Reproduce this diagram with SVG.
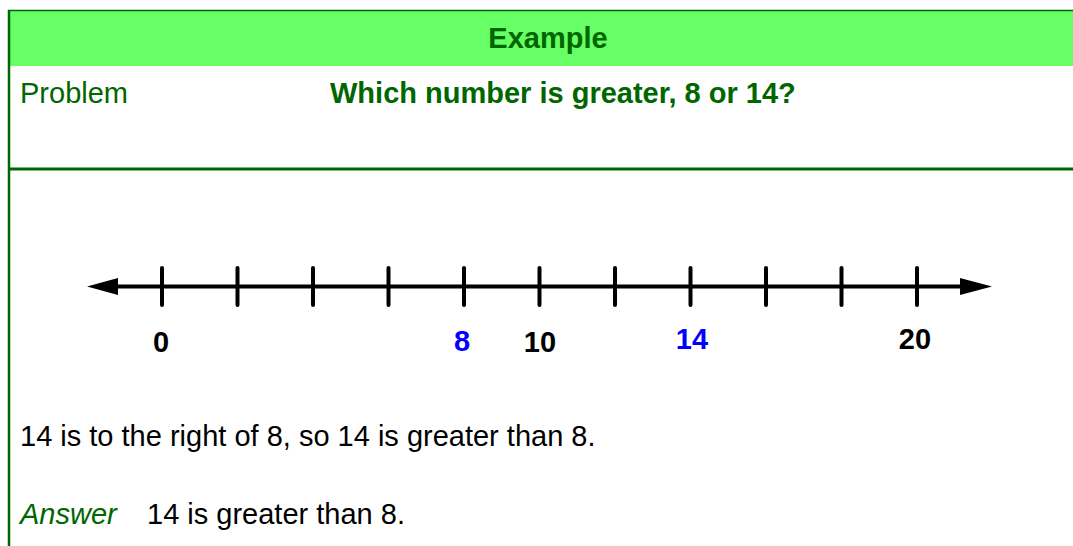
<svg xmlns="http://www.w3.org/2000/svg" width="1073" height="546" viewBox="0 0 1073 546">
<style>
.t{font-family:"Liberation Sans",Arial,sans-serif;font-size:29px}
.b{font-weight:bold}
.g{fill:#006600}
.k{fill:#000}
.bl{fill:#0000ff}
.tick{stroke:#000;stroke-width:4;stroke-linecap:round}
.axis{stroke:#000;stroke-width:4}
.bd{stroke:#006600;fill:none}
</style>
<rect width="1073" height="546" fill="#fff"/>
<g id="header">
<rect x="9" y="10" width="1064" height="56" fill="#66ff66"/>
<line class="bd" x1="8" y1="10.5" x2="1073" y2="10.5" stroke-width="1.5"/>
<text class="t b g" x="548" y="48" text-anchor="middle">Example</text>
</g>
<g id="frame">
<line class="bd" x1="9" y1="10" x2="9" y2="546" stroke-width="2.5"/>
<line class="bd" x1="8" y1="169" x2="1073" y2="169" stroke-width="3"/>
</g>
<g id="problem">
<text class="t g" x="20" y="103">Problem</text>
<text class="t b g" x="330" y="103">Which number is greater, 8 or 14?</text>
</g>
<g id="numberline">
<line class="axis" x1="112" y1="286.5" x2="966" y2="286.5"/>
<polygon points="87,286.5 118,278 118,295" fill="#000"/>
<polygon points="992,286.5 960,278 960,295" fill="#000"/>
<line class="tick" x1="162" y1="268" x2="162" y2="305"/>
<line class="tick" x1="237.5" y1="268" x2="237.5" y2="305"/>
<line class="tick" x1="313" y1="268" x2="313" y2="305"/>
<line class="tick" x1="388.5" y1="268" x2="388.5" y2="305"/>
<line class="tick" x1="464" y1="268" x2="464" y2="305"/>
<line class="tick" x1="539.5" y1="268" x2="539.5" y2="305"/>
<line class="tick" x1="615" y1="268" x2="615" y2="305"/>
<line class="tick" x1="690.5" y1="268" x2="690.5" y2="305"/>
<line class="tick" x1="766" y1="268" x2="766" y2="305"/>
<line class="tick" x1="841.5" y1="268" x2="841.5" y2="305"/>
<line class="tick" x1="917" y1="268" x2="917" y2="305"/>
<text class="t b k" x="161" y="352" text-anchor="middle">0</text>
<text class="t b bl" x="462" y="351" text-anchor="middle">8</text>
<text class="t b k" x="540" y="352" text-anchor="middle">10</text>
<text class="t b bl" x="692" y="349" text-anchor="middle">14</text>
<text class="t b k" x="915" y="349" text-anchor="middle">20</text>
</g>
<g id="explanation">
<text class="t k" x="20" y="446">14 is to the right of 8, so 14 is greater than 8.</text>
</g>
<g id="answer">
<text class="t g" x="20" y="524" font-style="italic">Answer</text>
<text class="t k" x="147" y="524">14 is greater than 8.</text>
</g>
</svg>
